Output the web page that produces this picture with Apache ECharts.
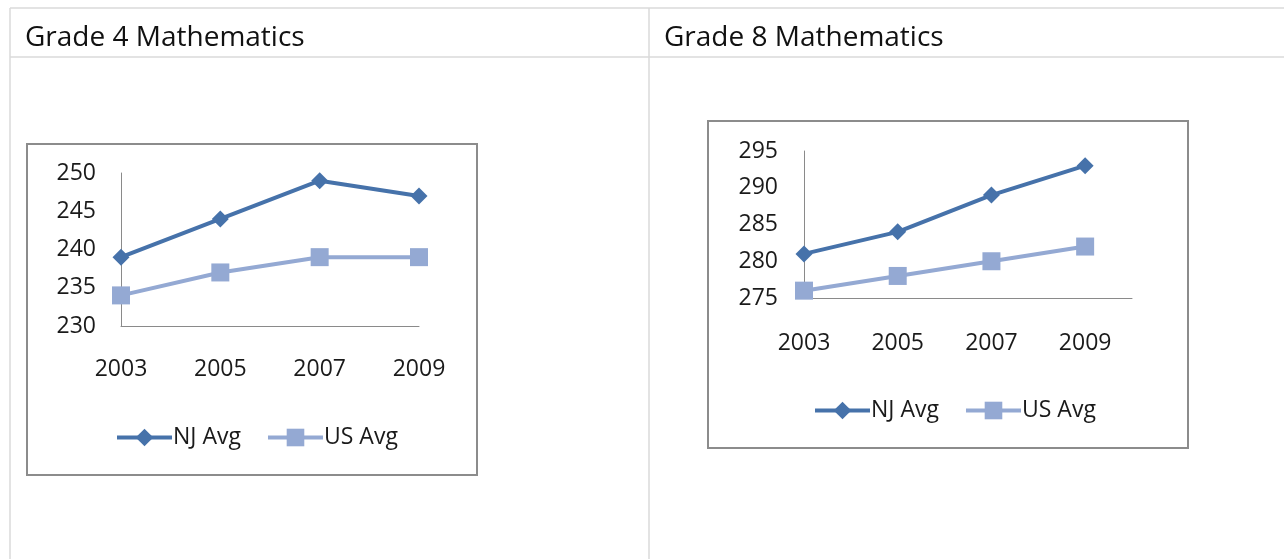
<!DOCTYPE html>
<html>
<head>
<meta charset="utf-8">
<script src="https://cdn.jsdelivr.net/npm/echarts@6/dist/echarts.min.js"></script>
<style>
  html, body { margin: 0; padding: 0; background: #fff; }
  #main { width: 1284px; height: 559px; }
</style>
</head>
<body>
<div id="main"></div>
<script>
// chart data
var years = ['2003', '2005', '2007', '2009'];
var g4Nj = [239, 244, 249, 247];
var g4Us = [234, 237, 239, 239];
var g8Nj = [281, 284, 289, 293];
var g8Us = [276, 278, 280, 282];
var g4Ticks = { min: 230, max: 250, step: 5 };
var g8Ticks = { min: 275, max: 295, step: 5 };

var FONT = '"Open Sans", "Noto Sans", sans-serif';
var NJ_COLOR = '#4672aa';
var US_COLOR = '#94a9d3';
var GRID_LINE = '#dadada';
var AXIS_LINE = '#8a8a8a';

var myChart = echarts.init(document.getElementById('main'), null, { renderer: 'canvas' });

function tableLine(x1, y1, x2, y2) {
    return {
        type: 'line',
        shape: { x1: x1, y1: y1, x2: x2, y2: y2 },
        style: { stroke: GRID_LINE, lineWidth: 1.5 },
        silent: true
    };
}

function chartBox(x, y, w, h) {
    return {
        type: 'rect',
        shape: { x: x, y: y, width: w, height: h },
        style: { fill: 'transparent', stroke: '#8c8c8c', lineWidth: 2 },
        silent: true
    };
}

function title(text, x) {
    return {
        type: 'text',
        x: x,
        y: 38,
        style: {
            text: text,
            font: '28px ' + FONT,
            fill: '#111',
            verticalAlign: 'middle'
        },
        silent: true
    };
}

// x positions 0..3 so grade 8 axis can run half a step past the last year
function pairs(values) {
    return values.map(function(v, i) { return [i, v]; });
}

function yAxisFor(gridIndex, ticks, margin) {
    return {
        type: 'value',
        gridIndex: gridIndex,
        min: ticks.min,
        max: ticks.max,
        interval: ticks.step,
        axisLine: { show: true, lineStyle: { color: AXIS_LINE, width: 1 } },
        axisTick: { show: false },
        splitLine: { show: false },
        axisLabel: { fontSize: 23, fontFamily: FONT, color: '#1a1a1a', margin: margin }
    };
}

function xAxisFor(gridIndex, max, margin) {
    return {
        type: 'value',
        gridIndex: gridIndex,
        min: 0,
        max: max,
        interval: 1,
        axisLine: { show: true, lineStyle: { color: AXIS_LINE, width: 1 } },
        axisTick: { show: false },
        splitLine: { show: false },
        axisLabel: {
            fontSize: 23,
            fontFamily: FONT,
            color: '#1a1a1a',
            margin: margin,
            showMaxLabel: max === 3,
            formatter: function(v) {
                return (v % 1 === 0 && years[v]) ? years[v] : '';
            }
        }
    };
}

function lineSeries(name, values, idx, color, symbol, size) {
    return {
        name: name,
        type: 'line',
        xAxisIndex: idx,
        yAxisIndex: idx,
        data: pairs(values),
        symbol: symbol,
        symbolSize: size,
        showAllSymbol: true,
        lineStyle: { color: color, width: 4 },
        itemStyle: { color: color },
        emphasis: { disabled: true },
        z: symbol === 'diamond' ? 3 : 2
    };
}

function legendAt(left, top) {
    return {
        left: left,
        top: top,
        itemWidth: 55,
        itemHeight: 22,
        itemGap: 25,
        data: ['NJ Avg', 'US Avg'],
        lineStyle: { width: 4 },
        textStyle: { fontSize: 23, fontFamily: FONT, color: '#1a1a1a', padding: [0, 0, 0, -4] }
    };
}

var option = {
    animation: false,
    backgroundColor: '#fff',
    graphic: [
        tableLine(10, 8, 1284, 8),
        tableLine(10, 57, 1284, 57),
        tableLine(10, 8, 10, 559),
        tableLine(649, 8, 649, 559),
        title('Grade 4 Mathematics', 25),
        title('Grade 8 Mathematics', 664),
        chartBox(27, 144, 450, 331),
        chartBox(708, 121, 480, 327)
    ],
    legend: [legendAt(110, 421), legendAt(808, 394)],
    grid: [
        { left: 121, top: 173, width: 298, height: 153 },
        { left: 804, top: 151, width: 328, height: 147 }
    ],
    xAxis: [xAxisFor(0, 3, 32), xAxisFor(1, 3.5, 34)],
    yAxis: [yAxisFor(0, g4Ticks, 25), yAxisFor(1, g8Ticks, 26)],
    series: [
        lineSeries('NJ Avg', g4Nj, 0, NJ_COLOR, 'diamond', 17),
        lineSeries('US Avg', g4Us, 0, US_COLOR, 'rect', 18),
        lineSeries('NJ Avg', g8Nj, 1, NJ_COLOR, 'diamond', 17),
        lineSeries('US Avg', g8Us, 1, US_COLOR, 'rect', 18)
    ]
};

myChart.setOption(option);
</script>
</body>
</html>
